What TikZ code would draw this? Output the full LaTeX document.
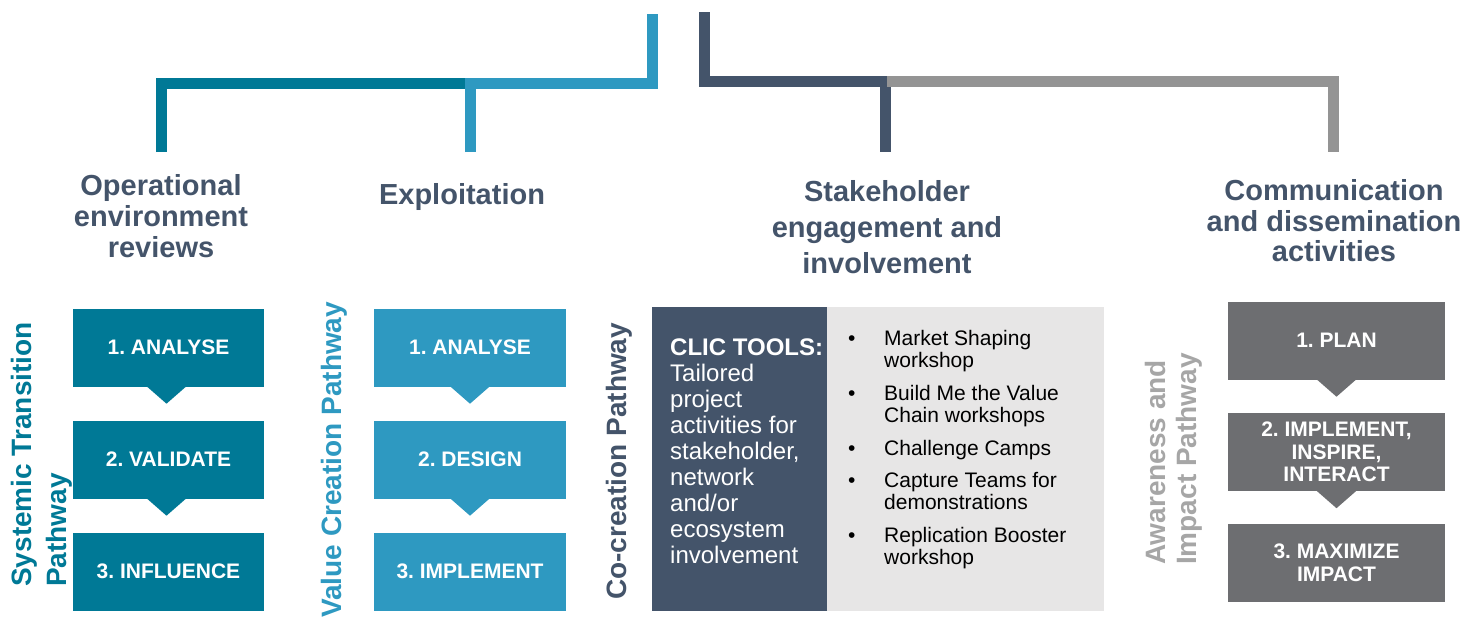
\documentclass[tikz,border=0pt]{standalone}
\usepackage{fontspec}
\setmainfont{Liberation Sans}
\usetikzlibrary{calc}
\AtBeginDocument{\frenchspacing}
\definecolor{cteal}{RGB}{0,121,150}
\definecolor{cblue}{RGB}{46,153,193}
\definecolor{cslate}{RGB}{68,84,106}
\definecolor{cgrayline}{RGB}{148,148,148}
\definecolor{cgraybox}{RGB}{109,110,113}
\definecolor{cgraytext}{RGB}{166,166,166}
\definecolor{cpanel}{RGB}{231,230,230}
\begin{document}
\begin{tikzpicture}[x=1pt,y=-1pt,
  bracket/.style={line width=11pt, line join=miter},
  stepbox/.style={minimum width=191pt, minimum height=78pt, inner sep=0pt, text=white,
    font=\fontsize{21}{22.5}\selectfont\bfseries, align=center},
  head/.style={anchor=base, inner sep=0pt, text=cslate, font=\fontsize{29}{31}\selectfont\bfseries},
  side/.style={rotate=90, anchor=base west, inner sep=0pt, font=\fontsize{28}{30}\selectfont\bfseries},
  clicline/.style={anchor=base west, inner sep=0pt, text=white, font=\fontsize{24}{26}\selectfont},
  itemline/.style={anchor=base west, inner sep=0pt, text=black, font=\fontsize{21}{22.5}\selectfont},
]
\useasboundingbox (0,0) rectangle (1480,619);

% ---------- brackets ----------
\coordinate (b1) at (161,152);
\coordinate (b2) at (161,83);
\coordinate (b3) at (470,83);
\coordinate (b4) at (470,152);
\coordinate (b5) at (652,83);
\coordinate (b6) at (652,13.5);
\coordinate (s1) at (704,12);
\coordinate (s2) at (704,81);
\coordinate (s3) at (885,81);
\coordinate (s4) at (885,152);
\coordinate (g1) at (887,81);
\coordinate (g2) at (1333,81);
\coordinate (g3) at (1333,152);
\draw[bracket, cteal] (b1) -- (b2) -- (b3);
\draw[bracket, cblue] (b4) -- (b3) -- (b5) -- (b6);
\draw[bracket, cslate] (s1) -- (s2) -- (s3) -- (s4);
\draw[bracket, cgrayline] (g1) -- (g2) -- (g3);

% ---------- headings ----------
\node[head] (h1a) at (161,195) {Operational};
\node[head] (h1b) at (161,226.5) {environment};
\node[head] (h1c) at (161,257) {reviews};
\node[head] (h2a) at (462,204) {Exploitation};
\node[head] (h3a) at (887,201.5) {Stakeholder};
\node[head] (h3b) at (887,237.5) {engagement and};
\node[head] (h3c) at (887,273) {involvement};
\node[head] (h4a) at (1334,200) {Communication};
\node[head] (h4b) at (1334,231.5) {and dissemination};
\node[head] (h4c) at (1334,261.5) {activities};

% ---------- side labels ----------
\node[side, text=cteal] (sa1) at (31.7,587) {Systemic Transition};
\node[side, text=cteal] (sa2) at (66.7,587) {Pathway};
\node[side, text=cblue] (sb1) at (341.7,618) {Value Creation Pathway};
\node[side, text=cslate] (sc1) at (626.7,600) {Co-creation Pathway};
\node[side, text=cgraytext] (sd1) at (1165,565) {Awareness and};
\node[side, text=cgraytext] (sd2) at (1196.7,565) {Impact Pathway};

% ---------- column 1 ----------
\node[stepbox, fill=cteal] (a1) at (168.5,347.5) {1. ANALYSE};
\node[stepbox, fill=cteal] (a2) at (168.5,459.5) {2. VALIDATE};
\node[stepbox, fill=cteal] (a3) at (168.5,571.5) {3. INFLUENCE};
\fill[cteal] ($(a1.south)+(-22,-0.5)$) -- ($(a1.south)+(18,-0.5)$) -- ($(a1.south)+(-2,17)$) -- cycle;
\fill[cteal] ($(a2.south)+(-22,-0.5)$) -- ($(a2.south)+(18,-0.5)$) -- ($(a2.south)+(-2,17)$) -- cycle;

% ---------- column 2 ----------
\node[stepbox, fill=cblue, minimum width=192pt] (v1) at (470,347.5) {1. ANALYSE};
\node[stepbox, fill=cblue, minimum width=192pt] (v2) at (470,459.5) {2. DESIGN};
\node[stepbox, fill=cblue, minimum width=192pt] (v3) at (470,571.5) {3. IMPLEMENT};
\fill[cblue] ($(v1.south)+(-20,-0.5)$) -- ($(v1.south)+(20,-0.5)$) -- ($(v1.south)+(0,17)$) -- cycle;
\fill[cblue] ($(v2.south)+(-20,-0.5)$) -- ($(v2.south)+(20,-0.5)$) -- ($(v2.south)+(0,17)$) -- cycle;

% ---------- column 3 ----------
\node[fill=cslate, minimum width=175pt, minimum height=304pt, inner sep=0pt, anchor=north west] (dp) at (652,307) {};
\node[fill=cpanel, minimum width=277pt, minimum height=304pt, inner sep=0pt, anchor=north west] (lp) at (827,307) {};
\node[clicline, font=\fontsize{24}{26}\selectfont\bfseries] (c0) at (670,355) {CLIC TOOLS:};
\foreach \t [count=\i] in {Tailored,project,activities for,{stakeholder,},network,and/or,ecosystem,involvement}
  \node[clicline] (c\i) at (670,355+26*\i) {\t};

\node[itemline] (m1) at (848,345) {•};
\node[itemline] (m2) at (848,400) {•};
\node[itemline] (m3) at (848,455.5) {•};
\node[itemline] (m4) at (848,487) {•};
\node[itemline] (m5) at (848,542) {•};
\node[itemline] (i1a) at (884,345) {Market Shaping};
\node[itemline] (i1b) at (884,367.5) {workshop};
\node[itemline] (i2a) at (884,400) {Build Me the Value};
\node[itemline] (i2b) at (884,422.5) {Chain workshops};
\node[itemline] (i3a) at (884,455.5) {Challenge Camps};
\node[itemline] (i4a) at (884,487) {Capture Teams for};
\node[itemline] (i4b) at (884,509.5) {demonstrations};
\node[itemline] (i5a) at (884,542) {Replication Booster};
\node[itemline] (i5b) at (884,564.5) {workshop};

% ---------- column 4 ----------
\node[stepbox, fill=cgraybox, minimum width=217pt] (p1) at (1336.5,340.5) {1. PLAN};
\node[stepbox, fill=cgraybox, minimum width=217pt] (p2) at (1336.5,452) {2. IMPLEMENT,\\INSPIRE,\\INTERACT};
\node[stepbox, fill=cgraybox, minimum width=217pt] (p3) at (1336.5,563) {3. MAXIMIZE\\IMPACT};
\fill[cgraybox] ($(p1.south)+(-20,-0.5)$) -- ($(p1.south)+(20,-0.5)$) -- ($(p1.south)+(0,17)$) -- cycle;
\fill[cgraybox] ($(p2.south)+(-20,-0.5)$) -- ($(p2.south)+(20,-0.5)$) -- ($(p2.south)+(0,17)$) -- cycle;
\end{tikzpicture}
\end{document}
